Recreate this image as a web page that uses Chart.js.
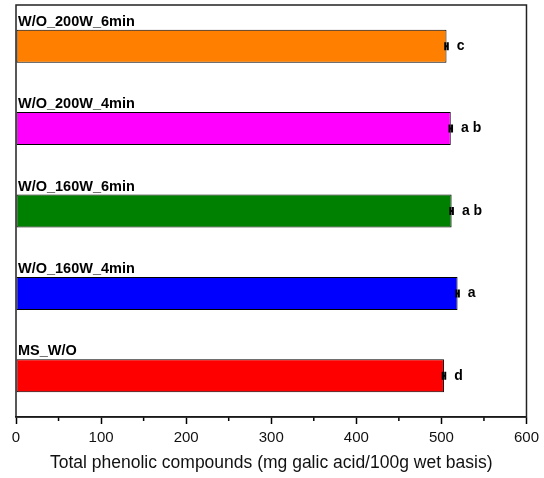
<!DOCTYPE html>
<html lang="en">
<head>
    <meta charset="UTF-8" />
    <title>Total phenolic compounds</title>
    <script src="https://cdn.jsdelivr.net/npm/chart.js"></script>
    <style>
        body { margin: 0; background: #fff; }
        #wrap { width: 544px; height: 478px; position: relative; }
    </style>
</head>
<body>
    <div id="wrap"><canvas id="phenolChart"></canvas></div>

    <script>
        // Data
        const categories = ["W/O_200W_6min", "W/O_200W_4min", "W/O_160W_6min", "W/O_160W_4min", "MS_W/O"];
        const values = [506, 511, 512, 519, 503];
        const errors = [1.5, 1.5, 1.5, 1.5, 1.5];
        const letters = ["c", "a b", "a b", "a", "d"];
        const barColors = ["#FF8000", "#FF00FF", "#008000", "#0000FF", "#FF0000"];
        const xTicks = [0, 100, 200, 300, 400, 500, 600];

        const fontFamily = "Arial, 'Liberation Sans', sans-serif";

        // Labels above bars, error bars, significance letters, minor ticks, frame
        const extrasPlugin = {
            id: "extras",
            afterDatasetsDraw(chart) {
                const ctx = chart.ctx;
                const xs = chart.scales.x;
                const area = chart.chartArea;
                const bars = chart.getDatasetMeta(0).data;

                ctx.save();
                bars.forEach((bar, i) => {
                    const top = bar.y - bar.height / 2;
                    // category name above the bar
                    ctx.fillStyle = "#000";
                    ctx.font = "bold 14.5px " + fontFamily;
                    ctx.textAlign = "left";
                    ctx.textBaseline = "alphabetic";
                    ctx.fillText(categories[i], area.left + 2, top - 4);

                    // error bar
                    const lo = xs.getPixelForValue(values[i] - errors[i]);
                    const hi = xs.getPixelForValue(values[i] + errors[i]);
                    ctx.strokeStyle = "#000";
                    ctx.lineWidth = 2;
                    ctx.beginPath();
                    ctx.moveTo(lo, bar.y); ctx.lineTo(hi, bar.y);
                    ctx.moveTo(lo, bar.y - 4); ctx.lineTo(lo, bar.y + 4);
                    ctx.moveTo(hi, bar.y - 4); ctx.lineTo(hi, bar.y + 4);
                    ctx.stroke();

                    // letter
                    ctx.font = "bold 14px " + fontFamily;
                    ctx.textBaseline = "middle";
                    ctx.fillText(letters[i], hi + 9, bar.y);
                });

                // minor ticks at the half steps
                ctx.strokeStyle = "#000";
                ctx.lineWidth = 1.5;
                for (let k = 0; k < xTicks.length - 1; k++) {
                    const px = xs.getPixelForValue((xTicks[k] + xTicks[k + 1]) / 2);
                    ctx.beginPath();
                    ctx.moveTo(px, area.bottom);
                    ctx.lineTo(px, area.bottom + 4);
                    ctx.stroke();
                }

                // frame around the plot
                ctx.strokeStyle = "#222";
                ctx.lineWidth = 1.5;
                ctx.strokeRect(area.left, area.top, area.right - area.left, area.bottom - area.top);
                ctx.restore();
            }
        };

        new Chart(document.getElementById("phenolChart"), {
            type: "bar",
            data: {
                labels: categories,
                datasets: [{
                    data: values,
                    backgroundColor: barColors,
                    borderColor: "#000",
                    borderWidth: 1,
                    borderSkipped: false,
                    barPercentage: 0.4,
                    categoryPercentage: 1.0
                }]
            },
            options: {
                indexAxis: "y",
                responsive: true,
                maintainAspectRatio: false,
                animation: false,
                layout: { padding: { left: 16, right: 15, top: 5, bottom: 4 } },
                plugins: {
                    legend: { display: false },
                    tooltip: { enabled: false }
                },
                scales: {
                    y: { display: false },
                    x: {
                        min: 0,
                        max: 600,
                        afterBuildTicks(axis) {
                            axis.ticks = xTicks.map(v => ({ value: v }));
                        },
                        border: { display: true, color: "#000", width: 1.5 },
                        grid: {
                            drawOnChartArea: false,
                            drawTicks: true,
                            tickLength: 7,
                            tickColor: "#000",
                            tickWidth: 1.5
                        },
                        ticks: {
                            color: "#111",
                            font: { family: fontFamily, size: 15 },
                            padding: 5,
                            maxRotation: 0
                        },
                        title: {
                            display: true,
                            text: "Total phenolic compounds (mg galic acid/100g wet basis)",
                            color: "#111",
                            font: { family: fontFamily, size: 17.5 },
                            padding: { top: 1, bottom: 0 }
                        }
                    }
                }
            },
            plugins: [extrasPlugin]
        });
    </script>
</body>
</html>
